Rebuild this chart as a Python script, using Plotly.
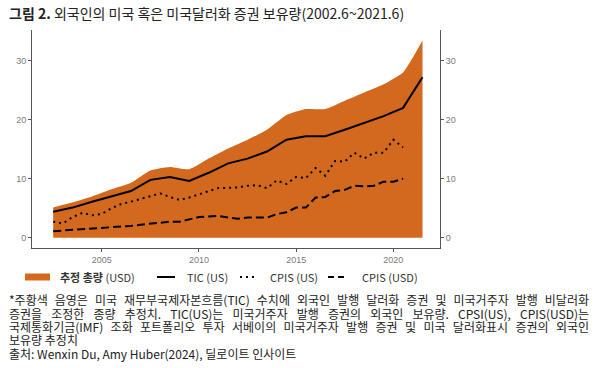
import plotly.graph_objects as go

# ---------------- data ----------------
years_annual = [2002.5, 2003.5, 2004.5, 2005.5, 2006.5, 2007.5, 2008.5, 2009.5, 2010.5, 2011.5,
                2012.5, 2013.5, 2014.5, 2015.5, 2016.5, 2017.5, 2018.5, 2019.5, 2020.5, 2021.5]
total_usd = [5.1, 6.0, 7.0, 8.2, 9.3, 11.4, 12.0, 11.6, 13.4, 15.1,
             16.6, 18.3, 20.8, 21.8, 21.8, 23.2, 24.6, 26.0, 28.0, 33.4]
tic_us = [4.4, 5.1, 6.1, 7.0, 7.9, 9.8, 10.3, 9.6, 11.0, 12.6,
          13.4, 14.6, 16.6, 17.2, 17.2, 18.3, 19.4, 20.6, 22.0, 27.2]

years_semi = [2002.5, 2003.0, 2003.5, 2004.0, 2004.5, 2005.0, 2005.5, 2006.0, 2006.5, 2007.0,
              2007.5, 2008.0, 2008.5, 2009.0, 2009.5, 2010.0, 2010.5, 2011.0, 2011.5, 2012.0,
              2012.5, 2013.0, 2013.5, 2014.0, 2014.5, 2015.0, 2015.5, 2016.0, 2016.5, 2017.0,
              2017.5, 2018.0, 2018.5, 2019.0, 2019.5, 2020.0, 2020.5]
cpis_us = [2.7, 2.4, 3.5, 4.2, 3.8, 4.0, 5.0, 5.7, 6.1, 6.6,
           7.0, 7.5, 6.9, 6.4, 6.8, 7.4, 7.9, 8.4, 8.5, 8.5,
           8.8, 8.9, 8.4, 9.7, 9.1, 10.3, 10.1, 11.8, 10.5, 13.0,
           12.9, 14.4, 13.4, 14.4, 14.4, 16.6, 15.3]
cpis_usd = [1.1, 1.2, 1.3, 1.4, 1.5, 1.6, 1.7, 1.9, 2.0, 2.2,
            2.4, 2.6, 2.7, 2.7, 3.1, 3.5, 3.6, 3.7, 3.4, 3.2,
            3.4, 3.4, 3.4, 4.0, 4.3, 5.1, 5.1, 6.8, 6.9, 7.9,
            8.1, 8.8, 8.7, 8.8, 9.5, 9.5, 10.0]

x_ticks = [2005, 2010, 2015, 2020]
y_ticks = [0, 10, 20, 30]

title_text = "<b>그림 2.</b> 외국인의 미국 혹은 미국달러화 증권 보유량(2002.6~2021.6)"
legend_names = ["추정 총량 (USD)", "TIC (US)", "CPIS (US)", "CPIS (USD)"]
footnote_lines = [
    "*주황색 음영은 미국 재무부국제자본흐름(TIC) 수치에 외국인 발행 달러화 증권 및 미국거주자 발행 비달러화",
    "증권을 조정한 종량 추정치. TIC(US)는 미국거주자 발행 증권의 외국인 보유량. CPSI(US), CPIS(USD)는",
    "국제통화기금(IMF) 조화 포트폴리오 투자 서베이의 미국거주자 발행 증권 및 미국 달러화표시 증권의 외국인",
    "보유량 추정치",
    "출처: Wenxin Du, Amy Huber(2024), 딜로이트 인사이트",
]
justified = [True, True, True, False, False]

# ---------------- layout constants (page pixels) ----------------
W, H = 600, 368
ML, MR, MT, MB = 32, 160, 30, 120
PW, PH = W - ML - MR, H - MT - MB
ORANGE = "#D2691E"
FONT = "Noto Sans CJK KR"
AXIS_C = "#555555"
TICK_C = "#7a7a7a"


def px(x):
    return (x - ML) / PW


def py(y):
    return (H - MB - y) / PH


fig = go.Figure()
fig.add_trace(go.Scatter(x=years_annual, y=total_usd, mode="lines", fill="tozeroy",
                         fillcolor=ORANGE, line=dict(width=0, color=ORANGE, shape="spline", smoothing=0.5),
                         name=legend_names[0], showlegend=False))
fig.add_trace(go.Scatter(x=years_annual, y=tic_us, mode="lines",
                         line=dict(color="black", width=2), name=legend_names[1], showlegend=False))
fig.add_trace(go.Scatter(x=years_semi, y=cpis_us, mode="lines",
                         line=dict(color="black", width=2, dash="2px,4px"), name=legend_names[2], showlegend=False))
fig.add_trace(go.Scatter(x=years_semi, y=cpis_usd, mode="lines",
                         line=dict(color="black", width=2, dash="8px,4px"), name=legend_names[3], showlegend=False))
# invisible trace so the right-hand axis is drawn
fig.add_trace(go.Scatter(x=[years_annual[0]], y=[0], yaxis="y2", mode="markers",
                         marker=dict(opacity=0), showlegend=False, hoverinfo="skip"))

axis_common = dict(showgrid=False, zeroline=False, showline=True, linecolor=AXIS_C, linewidth=1,
                   ticks="outside", ticklen=3, tickcolor=AXIS_C,
                   tickfont=dict(family="Liberation Sans", size=9, color=TICK_C))

fig.update_layout(
    width=W, height=H, autosize=False,
    margin=dict(l=ML, r=MR, t=MT, b=MB, pad=0),
    paper_bgcolor="white", plot_bgcolor="white",
    xaxis=dict(range=[2001.41, 2022.4], tickvals=x_ticks, **axis_common),
    yaxis=dict(range=[-1.75, 35.2], tickvals=y_ticks, **axis_common),
    yaxis2=dict(range=[-1.75, 35.2], tickvals=y_ticks, overlaying="y", side="right",
                anchor="x", **axis_common),
)

annotations = []
annotations.append(dict(x=px(8), y=py(13), xref="paper", yref="paper", xanchor="left", yanchor="middle",
                        text=title_text, showarrow=False, borderpad=0,
                        font=dict(family=FONT, size=14, color="#222222")))

# legend drawn by hand to match the reference layout
shapes = []
ly = 277
shapes.append(dict(type="rect", xref="paper", yref="paper", x0=px(25), x1=px(50), y0=py(273.5), y1=py(280.5),
                   fillcolor=ORANGE, line=dict(width=0)))
shapes.append(dict(type="line", xref="paper", yref="paper", x0=px(157), x1=px(175), y0=py(ly), y1=py(ly),
                   line=dict(color="black", width=2)))
shapes.append(dict(type="line", xref="paper", yref="paper", x0=px(240), x1=px(257), y0=py(ly), y1=py(ly),
                   line=dict(color="black", width=2, dash="2px,4px")))
shapes.append(dict(type="line", xref="paper", yref="paper", x0=px(328), x1=px(345), y0=py(ly), y1=py(ly),
                   line=dict(color="black", width=2, dash="6px,4px")))
leg_x = [59, 186, 269, 361]
leg_txt = ["<b>추정 총량</b> (USD)", legend_names[1], legend_names[2], legend_names[3]]
for lx, t in zip(leg_x, leg_txt):
    annotations.append(dict(x=px(lx), y=py(ly), xref="paper", yref="paper", xanchor="left", yanchor="middle",
                            text=t, showarrow=False, borderpad=0,
                            font=dict(family=FONT, size=11, color="#333333")))

foot_y = [299.5, 313, 326.3, 339.6, 353]
first_foot = len(annotations)
for fy, t in zip(foot_y, footnote_lines):
    annotations.append(dict(x=px(8), y=py(fy), xref="paper", yref="paper", xanchor="left", yanchor="middle",
                            text=t, showarrow=False, borderpad=0,
                            font=dict(family=FONT, size=12, color="#222222")))

fig.update_layout(annotations=annotations, shapes=shapes)

# remove the page's default body margin and justify the full footnote lines
just_idx = [first_foot + i for i, j in enumerate(justified) if j]
JUST_W = 580
post_js = """
document.body.style.margin = '0';
document.body.style.padding = '0';
var gd = document.getElementById('{plot_id}');
var idx = %s;
gd.querySelectorAll('.annotation').forEach(function(a){
  var i = parseInt(a.getAttribute('data-index'));
  if (idx.indexOf(i) < 0) return;
  var t = a.querySelector('text.annotation-text');
  if (!t) return;
  var n = (t.textContent.match(/ /g) || []).length;
  var w = t.getComputedTextLength();
  if (n > 0 && w < %d) {
    t.style.wordSpacing = ((%d - w) / n) + 'px';
    var x0 = parseFloat(t.getAttribute('x')) || 0;
    t.setAttribute('x', x0 + (%d - w) / 2);
  }
});
""" % (str(just_idx), JUST_W, JUST_W, JUST_W)

fig.write_html("out.html", post_script=post_js, config={"displayModeBar": False})
